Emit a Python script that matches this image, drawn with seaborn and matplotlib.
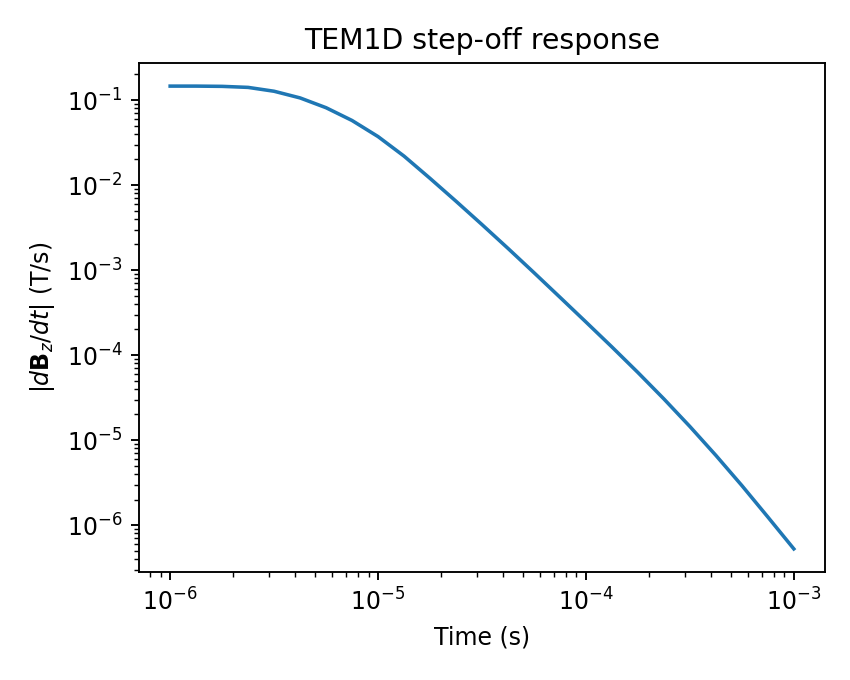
import matplotlib
matplotlib.use("Agg")
import matplotlib.pyplot as plt
import seaborn as sns
import pandas as pd

# === Data (25 log-spaced times, 8 per decade) ===
times = [1.000e-6, 1.334e-6, 1.778e-6, 2.371e-6, 3.162e-6, 4.217e-6, 5.623e-6, 7.499e-6,
         1.000e-5, 1.334e-5, 1.778e-5, 2.371e-5, 3.162e-5, 4.217e-5, 5.623e-5, 7.499e-5,
         1.000e-4, 1.334e-4, 1.778e-4, 2.371e-4, 3.162e-4, 4.217e-4, 5.623e-4, 7.499e-4,
         1.000e-3]
dbzdt = [0.146, 0.146, 0.145, 0.141, 0.127, 0.106, 0.0813, 0.0575,
         0.0372, 0.0219, 0.0120, 0.00646, 0.00343, 0.00180, 0.000933, 0.000479,
         0.000245, 0.0001245, 6.24e-5, 3.05e-5, 1.445e-5, 6.61e-6, 2.92e-6, 1.245e-6,
         5.25e-7]

df = pd.DataFrame({"time": times, "dbzdt": dbzdt})

# === Plot ===
fig, ax = plt.subplots(figsize=(5, 4), dpi=170)
fig.subplots_adjust(left=0.1635, right=0.9706, bottom=0.1588, top=0.9074)

sns.lineplot(data=df, x="time", y="dbzdt", ax=ax, color="#1f77b4", linewidth=1.5)
ax.set_xscale("log")
ax.set_yscale("log")

ax.set_title("TEM1D step-off response")
ax.set_xlabel("Time (s)")
ax.set_ylabel(r"$|d\mathbf{B}_z/dt|$ (T/s)")

plt.savefig("out.png", dpi=170)
plt.close()
